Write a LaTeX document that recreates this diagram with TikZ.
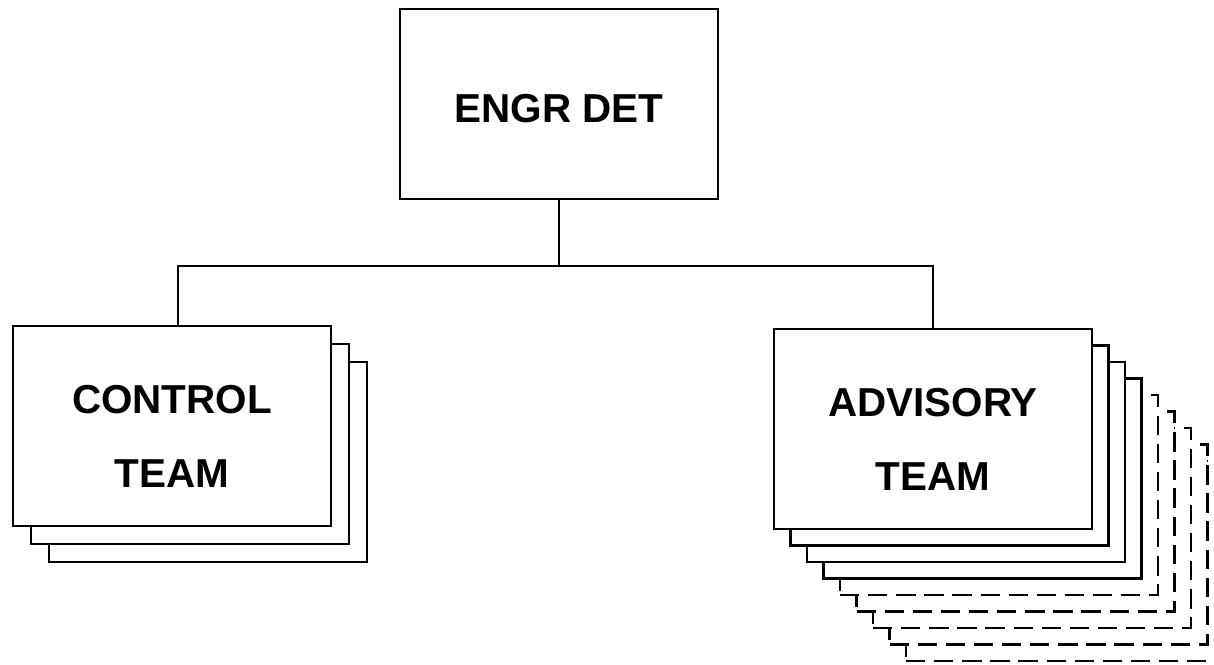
\documentclass[tikz,border=0pt]{standalone}
\usepackage{fontspec}
\setmainfont{Liberation Sans}
\begin{document}
\begin{tikzpicture}[x=0.02cm, y=-0.02cm,
    unit/.style={draw, line width=1.4pt, fill=white, minimum width=6.36cm,
      minimum height=4cm, align=center, inner sep=0pt, text height=70pt,
      font=\fontsize{23}{42}\selectfont\bfseries},
    ghost/.style={unit, dash pattern=on 11pt off 5pt},
    link/.style={line width=0.9pt}]
    \useasboundingbox (0,0) rectangle (1214,664);

    % Nodes
    \node[unit, minimum height=3.8cm, text height=21pt] (engr) at (559,104) {ENGR DET};

    \node[unit] (control2) at (208,462) {};
    \node[unit] (control1) at (190,444) {};
    \node[unit] (control) at (172,426) {CONTROL\\TEAM};

    \foreach \k in {8,...,4}
      \node[ghost] (advisory\k) at ({933+16.5*\k},{429+16.5*\k}) {};
    \foreach \k in {3,2,1}
      \node[unit] (advisory\k) at ({933+16.5*\k},{429+16.5*\k}) {};
    \node[unit] (advisory) at (933,429) {ADVISORY\\TEAM};

    % Lines
    \draw[link] (engr.south) -- ++(0,66) coordinate (split);
    \draw[link] (split) -| ([xshift=6*0.02cm]control.north);
    \draw[link] (split) -| (advisory.north);
\end{tikzpicture}
\end{document}
